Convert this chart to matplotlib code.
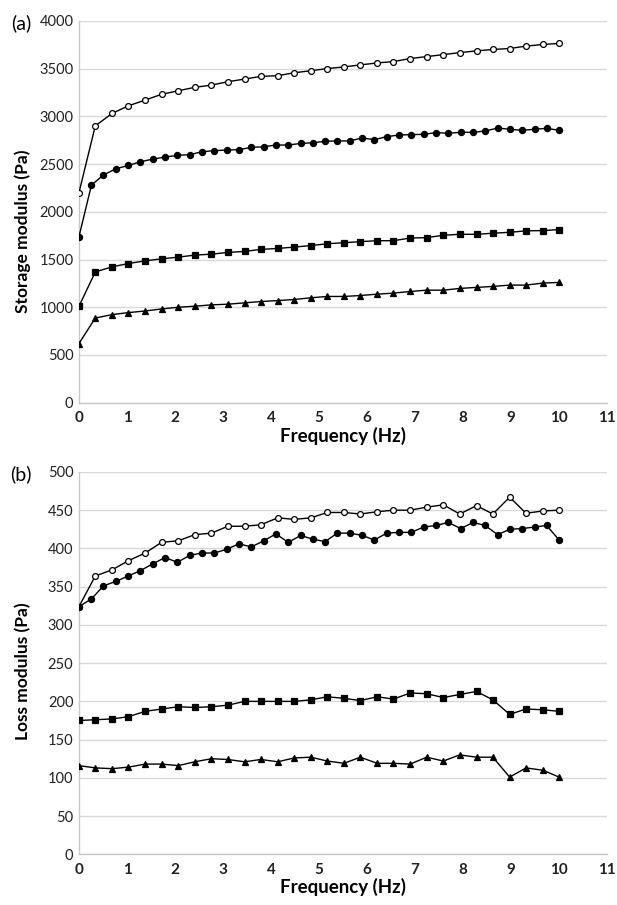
import matplotlib.pyplot as plt

plt.rcParams['font.family'] = ['Lato', 'DejaVu Sans']

# frecuencias (Hz): 30 puntos y 40 puntos
f30 = [0.00, 0.34, 0.69, 1.03, 1.38, 1.72, 2.07, 2.41, 2.76, 3.10,
       3.45, 3.79, 4.14, 4.48, 4.83, 5.17, 5.52, 5.86, 6.21, 6.55,
       6.90, 7.24, 7.59, 7.93, 8.28, 8.62, 8.97, 9.31, 9.66, 10.00]
f40 = [0.00, 0.26, 0.51, 0.77, 1.03, 1.28, 1.54, 1.79, 2.05, 2.31,
       2.56, 2.82, 3.08, 3.33, 3.59, 3.85, 4.10, 4.36, 4.62, 4.87,
       5.13, 5.38, 5.64, 5.90, 6.15, 6.41, 6.67, 6.92, 7.18, 7.44,
       7.69, 7.95, 8.21, 8.46, 8.72, 8.97, 9.23, 9.49, 9.74, 10.00]

# (a) modulo de almacenamiento (Pa)
g1_open = [2200, 2900, 3030, 3110, 3170, 3230, 3268, 3303, 3327, 3362,
           3390, 3418, 3425, 3456, 3477, 3500, 3517, 3538, 3559, 3573,
           3605, 3625, 3646, 3667, 3685, 3700, 3710, 3735, 3752, 3763]
g1_fill = [1740, 2280, 2385, 2451, 2485, 2524, 2552, 2573, 2591, 2598,
           2629, 2640, 2647, 2650, 2675, 2681, 2699, 2699, 2716, 2723,
           2738, 2742, 2742, 2773, 2755, 2787, 2804, 2808, 2811, 2829,
           2822, 2832, 2832, 2846, 2877, 2864, 2853, 2864, 2874, 2853]
g1_sq = [1010, 1370, 1423, 1458, 1486, 1507, 1525, 1546, 1556, 1574,
         1585, 1606, 1616, 1630, 1646, 1665, 1676, 1687, 1697, 1697,
         1725, 1729, 1754, 1764, 1764, 1775, 1785, 1800, 1803, 1813]
g1_tri = [620, 887, 923, 944, 961, 982, 1000, 1011, 1025, 1032,
          1046, 1060, 1070, 1081, 1099, 1113, 1113, 1123, 1137, 1148,
          1165, 1179, 1179, 1197, 1208, 1218, 1232, 1232, 1253, 1260]

# (b) modulo de perdida (Pa)
g2_open = [324, 364, 372, 384, 394, 408, 410, 418, 420, 429,
           429, 431, 440, 438, 440, 447, 447, 445, 448, 450,
           450, 454, 457, 445, 456, 445, 467, 446, 449, 450]
g2_fill = [324, 334, 351, 357, 364, 371, 380, 388, 382, 391,
           394, 394, 399, 406, 402, 410, 419, 408, 417, 412,
           409, 420, 420, 417, 411, 420, 421, 421, 428, 430,
           434, 426, 434, 430, 418, 425, 426, 428, 430, 411]
g2_sq = [175, 176, 177, 180, 187, 190, 193, 192, 193, 195,
         200, 200, 200, 200, 202, 206, 204, 201, 206, 203,
         211, 210, 205, 209, 213, 202, 183, 190, 189, 187]
g2_tri = [116, 113, 112, 114, 118, 118, 116, 121, 125, 124,
          121, 124, 121, 126, 127, 122, 119, 127, 119, 119,
          118, 127, 122, 130, 127, 127, 101, 113, 110, 101]

xticks = list(range(0, 12))


def panel(ax, series, ymax, ystep, ylabel, letra, ylab_y):
    for x, y, m, fc, ms in series:
        ax.plot(x, y, color='black', lw=1.0, marker=m, ms=ms,
                mfc=fc, mec='black', mew=0.9, zorder=3)
    ax.set_xlim(0, 11)
    ax.set_ylim(0, ymax)
    ax.set_xticks(xticks)
    ax.set_yticks(range(0, ymax + 1, ystep))
    ax.grid(axis='y', color='#d9d9d9', lw=1.0)
    ax.set_axisbelow(True)
    for s in ['top', 'right']:
        ax.spines[s].set_visible(False)
    for s in ['left', 'bottom']:
        ax.spines[s].set_color('#c8c8c8')
        ax.spines[s].set_linewidth(1.0)
    ax.tick_params(length=0)
    ax.tick_params(axis='y', labelsize=10.5, pad=4, labelcolor='#222222')
    ax.tick_params(axis='x', labelsize=11, pad=6, labelcolor='#222222')
    for t in ax.get_xticklabels():
        t.set_fontweight('bold')
    ax.set_xlabel('Frequency (Hz)', fontsize=13.5, fontweight='bold', labelpad=1)
    ax.set_ylabel(ylabel, fontsize=12.5, fontweight='bold')
    ax.yaxis.set_label_coords(-0.09, ylab_y)
    ax.text(-0.11, 0.993, letra, transform=ax.transAxes, fontsize=14,
            ha='center', va='center')


fig = plt.figure(figsize=(6.17, 9.05), dpi=100)
ax1 = fig.add_axes([0.128, 0.555, 0.856, 0.422])
ax2 = fig.add_axes([0.128, 0.056, 0.856, 0.4225])

panel(ax1, [(f30, g1_open, 'o', 'white', 4.2),
            (f40, g1_fill, 'o', 'black', 4.4),
            (f30, g1_sq, 's', 'black', 4.0),
            (f30, g1_tri, '^', 'black', 4.2)],
      4000, 500, 'Storage modulus (Pa)', '(a)', 0.45)
panel(ax2, [(f30, g2_open, 'o', 'white', 4.2),
            (f40, g2_fill, 'o', 'black', 4.4),
            (f30, g2_sq, 's', 'black', 4.0),
            (f30, g2_tri, '^', 'black', 4.2)],
      500, 50, 'Loss modulus (Pa)', '(b)', 0.48)

plt.savefig('out.png', dpi=100)
